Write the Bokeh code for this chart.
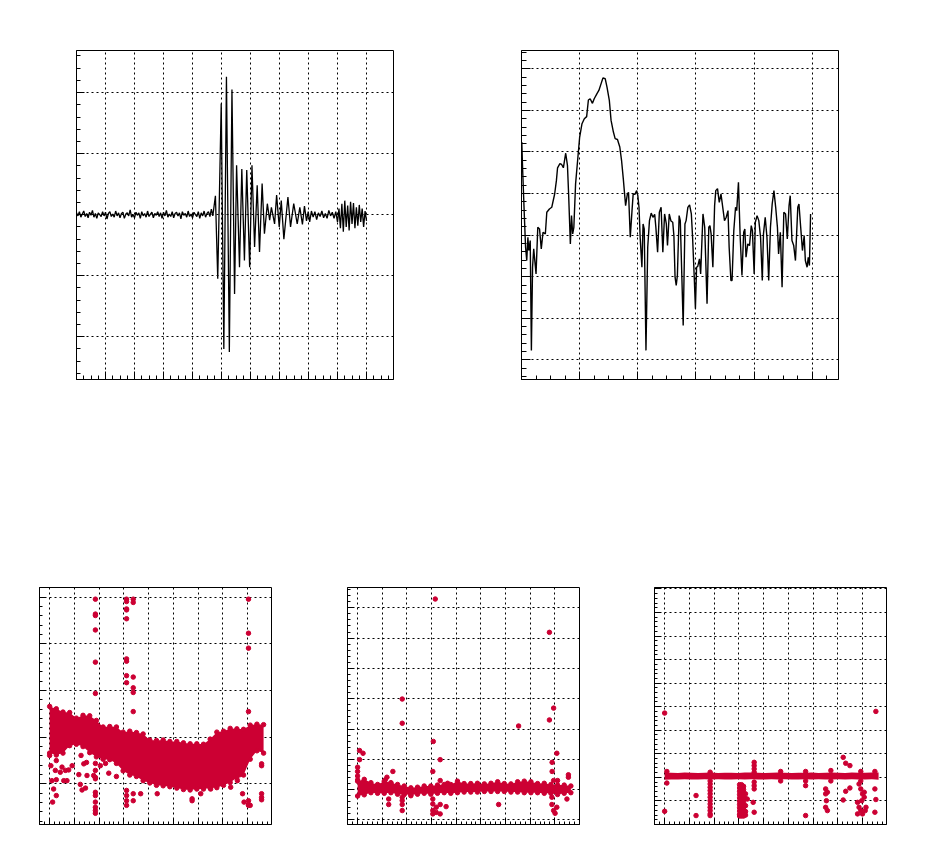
from bokeh.plotting import figure
from bokeh.layouts import column, row
from bokeh.models import FixedTicker, CustomJSTickFormatter, Range1d
from bokeh.embed import file_html
from bokeh.resources import INLINE

RED = "#cc0033"

# ---------------- Panel 1: waveform ----------------
wave_noise = [0.03, -0.02, 0.05, -0.04, 0.01, 0.06, -0.03, 0.02, -0.05, 0.04,
              -0.01, 0.07, -0.04, 0.02, -0.06, 0.03, 0.00, -0.03, 0.05, -0.02,
              0.04, -0.07, 0.02, 0.05, -0.03, 0.01, -0.04, 0.06, -0.02, 0.03,
              -0.05, 0.02, 0.04, -0.06, 0.01, 0.03, -0.02, 0.08, -0.04, 0.00,
              -0.05, 0.04, -0.01, 0.03, -0.06, 0.05, -0.02, 0.02, -0.04, 0.06,
              -0.03, 0.01, 0.04, -0.05, 0.02, -0.01, 0.05, -0.03, 0.03, -0.06,
              0.04, -0.02, 0.07, -0.04, 0.01, -0.03, 0.05, -0.05, 0.02, 0.04,
              -0.02, 0.03, -0.07, 0.05, -0.01, 0.02, -0.04, 0.06, -0.03, 0.01,
              -0.05, 0.04, 0.00, -0.03, 0.05, -0.06, 0.03, -0.02, 0.06, -0.04,
              0.02, 0.05, -0.03, 0.09]
burst_t = [4.70, 4.79, 4.87, 4.99, 5.08, 5.17, 5.27, 5.36, 5.45, 5.52,
           5.62, 5.70, 5.79, 5.87, 5.97, 6.05, 6.14, 6.23, 6.31, 6.40,
           6.48, 6.58, 6.66, 6.72, 6.83, 6.90, 6.99, 7.06, 7.15, 7.29,
           7.38, 7.49, 7.61, 7.70, 7.79, 7.86, 7.93, 7.99, 8.04, 8.10,
           8.16, 8.22, 8.28, 8.34, 8.40, 8.46, 8.52, 8.58, 8.64, 8.70,
           8.76, 8.82, 8.88, 8.94, 9.00, 9.05, 9.10, 9.15, 9.20, 9.25,
           9.30, 9.35, 9.40, 9.45, 9.50, 9.55, 9.60, 9.65, 9.70, 9.75,
           9.80, 9.85, 9.90, 9.95, 10.0]
burst_v = [-0.02, 0.31, -1.05, 1.82, -2.20, 2.26, -2.25, 2.05, -1.30, 0.81,
           -0.86, 0.75, -0.75, 0.73, -0.86, 0.81, -0.53, 0.48, -0.61, 0.51,
           -0.31, 0.18, -0.09, 0.12, -0.15, 0.32, -0.20, 0.23, -0.40, 0.29,
           -0.20, 0.18, -0.15, 0.12, -0.16, 0.14, -0.10, 0.05, -0.12, 0.06,
           -0.04, 0.05, -0.08, 0.03, -0.03, 0.06, -0.05, 0.02, -0.06, 0.07,
           -0.02, 0.04, -0.06, 0.05, -0.12, 0.10, -0.22, 0.18, -0.28, 0.23,
           -0.20, 0.15, -0.26, 0.21, -0.15, 0.19, -0.22, 0.12, -0.18, 0.16,
           -0.12, 0.10, -0.20, 0.06, -0.10]

# ---------------- Panel 2: spectrum ----------------
spectrum = [(0.005, 2.24), (0.02, 1.56), (0.05, 0.43), (0.07, -0.29), (0.09, -0.61),
            (0.11, -0.05), (0.125, -0.37), (0.15, -0.13), (0.17, -2.77), (0.19, -0.77),
            (0.21, -0.33), (0.25, -0.93), (0.28, 0.19), (0.31, 0.15), (0.34, -0.33),
            (0.37, 0.07), (0.41, 0.03), (0.435, 0.55), (0.48, 0.63), (0.52, 0.67),
            (0.57, 0.99), (0.60, 1.31), (0.62, 1.62), (0.66, 1.72), (0.69, 1.70),
            (0.72, 1.62), (0.74, 1.80), (0.76, 1.97), (0.79, 1.68), (0.81, 0.99),
            (0.84, -0.21), (0.86, 0.47), (0.88, 0.03), (0.90, 0.19), (0.93, 1.24),
            (0.97, 1.88), (1.00, 2.36), (1.04, 2.68), (1.08, 2.80), (1.12, 2.85),
            (1.15, 3.25), (1.18, 3.28), (1.22, 3.17), (1.25, 3.28), (1.30, 3.41),
            (1.33, 3.48), (1.37, 3.65), (1.40, 3.78), (1.44, 3.76), (1.47, 3.56),
            (1.51, 3.24), (1.54, 2.76), (1.58, 2.48), (1.61, 2.32), (1.65, 2.30),
            (1.69, 2.12), (1.72, 1.80), (1.75, 1.36), (1.77, 1.03), (1.79, 0.71),
            (1.82, 0.99), (1.84, 1.03), (1.87, -0.05), (1.90, 0.59), (1.92, 0.99),
            (1.95, 0.98), (1.98, 1.07), (2.00, 0.95), (2.02, 0.67), (2.04, -0.05),
            (2.07, -0.77), (2.09, 0.27), (2.11, 0.15), (2.14, -2.77), (2.17, -0.29),
            (2.20, 0.35), (2.23, 0.53), (2.26, 0.43), (2.29, 0.50), (2.31, 0.19),
            (2.34, -0.41), (2.37, 0.55), (2.40, 0.67), (2.43, -0.41), (2.46, 0.51),
            (2.49, 0.27), (2.51, -0.25), (2.54, 0.51), (2.57, 0.34), (2.60, 0.31),
            (2.62, -0.01), (2.64, -1.01), (2.66, -1.21), (2.68, -0.97), (2.71, 0.47),
            (2.73, 0.35), (2.78, -2.17), (2.81, 0.27), (2.83, 0.35), (2.86, 0.67),
            (2.89, 0.73), (2.92, 0.51), (2.94, -0.01), (2.97, -1.01), (2.99, -1.77),
            (3.01, -0.77), (3.03, -0.75), (3.06, -0.57), (3.08, -0.93), (3.12, 0.51),
            (3.15, 0.19), (3.19, -1.65), (3.22, 0.19), (3.24, 0.23), (3.26, 0.03),
            (3.29, -0.77), (3.32, 0.71), (3.34, 1.07), (3.37, 1.12), (3.40, 0.79),
            (3.43, 0.99), (3.46, 0.67), (3.49, 0.35), (3.52, 0.43), (3.55, 0.59),
            (3.57, -0.29), (3.60, -1.09), (3.62, -1.09), (3.65, 0.11), (3.68, 0.67),
            (3.70, 0.59), (3.73, 1.27), (3.76, -0.05), (3.79, -0.97), (3.82, 0.07),
            (3.84, 0.15), (3.86, -0.53), (3.89, -0.21), (3.92, -0.25), (3.95, 0.23),
            (3.97, 0.11), (4.00, -0.93), (4.02, 0.31), (4.05, 0.47), (4.08, 0.35),
            (4.11, -0.05), (4.14, -1.09), (4.16, 0.03), (4.19, 0.43), (4.22, -0.05),
            (4.25, -1.09), (4.28, 0.19), (4.31, 0.75), (4.34, 1.07), (4.37, 0.67),
            (4.40, 0.19), (4.42, -0.45), (4.45, 0.07), (4.48, -1.25), (4.51, 0.55),
            (4.54, 0.51), (4.57, -0.09), (4.60, 0.71), (4.62, 0.95), (4.65, -0.13),
            (4.68, -0.25), (4.71, -0.61), (4.75, 0.67), (4.77, 0.75), (4.80, 0.19),
            (4.83, -0.37), (4.86, -0.01), (4.88, -0.61), (4.91, -0.77), (4.93, -0.53),
            (4.95, -0.73), (4.97, 0.51)]

# ---------------- Bottom panels: scatter bands ----------------
band_x = [0.0, 0.27, 0.54, 0.81, 1.08, 1.35, 1.62, 1.89, 2.16, 2.43, 2.70, 2.97,
          3.24, 3.51, 3.78, 4.05, 4.32, 4.59, 4.86, 5.14, 5.41, 5.68, 5.95, 6.22,
          6.49, 6.76, 7.03, 7.30, 7.57, 7.84, 8.11, 8.38, 8.65]

p3_upper = [1.66, 1.61, 1.54, 1.53, 1.41, 1.47, 1.46, 1.36, 1.22, 1.23, 1.22, 1.11,
            1.13, 1.10, 1.07, 0.94, 0.93, 0.94, 0.91, 0.91, 0.88, 0.86, 0.86, 0.85,
            0.96, 1.11, 1.13, 1.19, 1.18, 1.17, 1.26, 1.28, 1.27]
p3_lower = [0.66, 0.62, 0.66, 0.82, 0.85, 0.80, 0.67, 0.58, 0.53, 0.52, 0.44, 0.28,
            0.19, 0.16, 0.07, 0.02, -0.03, -0.04, -0.06, -0.09, -0.12, -0.13, -0.11, -0.11,
            -0.09, -0.08, -0.03, 0.03, 0.13, 0.19, 0.53, 0.71, 0.66]
p3_outliers = [(1.85, 3.96), (1.85, 3.64), (1.85, 3.61), (1.85, 3.30), (1.85, 2.61),
               (1.85, 1.94), (1.85, 0.44), (1.85, 0.29), (1.85, 0.14), (1.85, 0.11),
               (1.85, -0.18), (1.85, -0.25), (1.85, -0.39), (1.85, -0.50), (1.85, -0.57),
               (1.85, -0.63),
               (3.11, 3.96), (3.11, 3.91), (3.11, 3.75), (3.11, 3.73), (3.11, 3.54),
               (3.11, 2.68), (3.11, 2.63), (3.11, 2.32), (3.11, 2.17), (3.11, -0.14),
               (3.11, -0.25), (3.11, -0.36), (3.11, -0.46),
               (3.38, 3.96), (3.38, 3.89), (3.38, 2.29), (3.38, 2.06), (3.38, 1.96),
               (3.38, 1.55), (3.38, -0.21), (3.38, -0.36),
               (8.04, 3.96), (8.04, 3.23), (8.04, 2.91), (8.04, 1.55), (8.04, -0.36),
               (8.04, -0.44), (8.04, -0.46),
               (8.57, 0.43), (8.57, 0.39), (8.57, -0.21), (8.57, -0.29), (8.57, -0.34),
               (0.0, 0.61), (0.05, 0.39), (0.09, 0.07), (0.12, -0.39), (0.16, -0.11),
               (0.27, 0.50), (0.23, 0.29), (0.27, 0.09), (0.27, -0.25), (0.43, 0.25),
               (0.50, 0.36), (0.57, 0.07), (0.64, 0.29), (0.70, 0.07), (0.77, 0.30),
               (0.91, 0.39), (1.18, 0.20), (1.24, -0.01), (1.27, 0.61), (1.31, -0.13),
               (1.38, 0.43), (1.45, -0.09), (1.49, 0.46), (1.51, 0.18), (1.78, 0.18),
               (2.39, 0.23), (2.26, 0.44), (2.05, 0.39), (2.70, 0.16),
               (3.68, -0.21), (4.35, -0.21), (5.76, -0.32), (5.76, -0.36), (6.11, -0.21),
               (6.51, -0.11), (7.32, -0.07), (7.59, 0.07), (7.80, -0.21), (7.86, -0.39),
               (8.11, -0.46), (7.70, 0.20)]

p4_upper = [1.28, 1.34, 1.23, 1.17, 1.28, 1.23, 1.17, 1.12, 1.06, 1.08, 1.12, 1.12,
            1.15, 1.17, 1.17, 1.28, 1.20, 1.20, 1.21, 1.19, 1.21, 1.26, 1.20, 1.19,
            1.26, 1.28, 1.26, 1.20, 1.21, 1.17, 1.15, 1.15, 1.12]
p4_lower = [0.79, 0.83, 0.90, 0.88, 0.88, 0.90, 0.85, 0.84, 0.83, 0.85, 0.88, 0.85,
            0.88, 0.90, 0.88, 0.90, 0.92, 0.92, 0.92, 0.94, 0.94, 0.94, 0.94, 0.92,
            0.92, 0.90, 0.90, 0.90, 0.88, 0.88, 0.84, 0.88, 0.90]
p4_outliers = [(3.15, 7.29), (7.78, 6.19), (1.81, 3.99), (1.81, 3.19), (3.07, 2.59),
               (3.35, 1.99), (3.05, 1.60), (3.35, 1.30), (6.53, 3.10), (7.78, 3.30),
               (7.95, 3.69), (8.08, 2.20), (7.89, 1.90), (7.89, 1.60), (7.95, 1.30),
               (8.11, 1.30), (0.08, 2.29), (0.22, 2.20), (0.08, 1.99), (0.0, 1.74),
               (0.0, 1.60), (0.0, 1.45), (0.0, 1.32), (1.43, 1.60), (1.19, 1.41),
               (1.12, 1.32), (1.35, 1.21), (3.65, 1.21), (8.55, 1.49), (8.55, 1.41),
               (8.49, 0.69), (1.26, 0.69), (1.26, 0.51), (1.81, 0.75), (1.81, 0.64),
               (1.81, 0.51), (1.81, 0.31), (2.16, 0.80), (3.05, 0.69), (3.05, 0.53),
               (3.05, 0.31), (3.05, 0.20), (3.19, 0.42), (3.19, 0.25), (3.35, 0.51),
               (3.35, 0.20), (3.59, 0.44), (5.72, 0.51), (7.88, 0.75), (7.88, 0.51),
               (7.95, 0.31), (8.01, 0.22), (8.08, 0.42)]

p5_upper = [1.21, 1.20, 1.19, 1.21, 1.20, 1.19, 1.20, 1.21, 1.19, 1.20, 1.20, 1.19,
            1.21, 1.21, 1.20, 1.19, 1.20, 1.21, 1.20, 1.19, 1.20, 1.20, 1.21, 1.19,
            1.20, 1.21, 1.20, 1.19, 1.21, 1.20, 1.20, 1.21, 1.21]
p5_lower = [0.90, 0.91, 0.91, 0.92, 0.91, 0.91, 0.92, 0.91, 0.92, 0.91, 0.91, 0.92,
            0.91, 0.92, 0.91, 0.91, 0.92, 0.91, 0.92, 0.91, 0.91, 0.92, 0.91, 0.92,
            0.91, 0.91, 0.92, 0.91, 0.92, 0.91, 0.91, 0.92, 0.90]
p5_outliers = [(0.0, 3.73), (8.54, 3.80), (0.0, -0.44), (0.09, 0.76), (0.09, 1.25),
               (1.27, 0.23), (1.27, -0.62),
               (1.84, 0.85), (1.84, 0.72), (1.84, 0.58), (1.84, 0.44), (1.84, 0.30),
               (1.84, 0.16), (1.84, 0.01), (1.84, -0.13), (1.84, -0.27), (1.84, -0.41),
               (1.84, -0.55), (1.84, -0.62), (1.84, 1.22),
               (3.03, 0.69), (3.03, 0.55), (3.03, 0.41), (3.03, 0.27), (3.03, 0.13),
               (3.03, -0.01), (3.03, -0.15), (3.03, -0.29), (3.03, -0.43), (3.03, -0.57),
               (3.03, -0.64),
               (3.11, 0.69), (3.11, 0.55), (3.11, 0.41), (3.11, 0.27), (3.11, 0.13),
               (3.11, -0.01), (3.11, -0.15), (3.11, -0.29), (3.11, -0.43), (3.11, -0.57),
               (3.11, -0.64),
               (3.19, 0.62), (3.19, 0.48), (3.19, 0.34), (3.19, 0.20), (3.19, 0.06),
               (3.19, -0.08), (3.19, -0.22), (3.19, -0.36), (3.19, -0.50), (3.19, -0.64),
               (3.27, 0.30), (3.27, 0.10), (3.27, -0.20), (3.27, -0.45), (3.27, -0.60),
               (3.34, 0.08),
               (3.62, 1.64), (3.62, 1.50), (3.62, 1.36), (3.62, 1.22), (3.62, 0.80),
               (3.62, 0.65), (3.62, 0.51), (3.58, -0.06), (3.62, -0.48),
               (4.69, 1.25), (4.69, 0.85), (5.70, 1.25), (5.70, 0.85),
               (5.70, 0.65), (5.70, -0.62),
               (6.51, 0.51), (6.51, 0.30), (6.54, 0.01), (6.58, -0.41), (6.51, -0.27),
               (6.58, 0.37), (6.72, 1.29), (6.72, 0.85),
               (7.22, 1.85), (7.32, 1.60), (7.49, 1.50), (7.22, 0.04), (7.32, 0.41),
               (7.49, 0.55),
               (7.86, 0.72), (7.93, 0.51), (8.00, 0.30), (8.07, 0.37), (7.80, -0.06),
               (7.86, -0.27), (7.93, -0.41), (8.00, -0.55), (8.11, -0.41), (7.80, -0.55),
               (8.14, -0.27), (7.97, 0.01), (8.07, 0.16), (7.93, 1.25), (7.93, 0.85),
               (8.50, 0.51), (8.54, 0.06), (8.50, -0.48), (8.50, 1.25)]


def seq(lo, hi, step):
    n = int(round((hi - lo) / step))
    return [round(lo + i * step, 4) for i in range(n + 1)]


def make_fig(width, height, left, right, top, bottom, xr, yr,
             xmaj, xmin, ymaj, ymin, xt, yt):
    p = figure(width=width, height=height,
               x_range=Range1d(*xr), y_range=Range1d(*yr),
               output_backend="svg", toolbar_location=None,
               min_border_left=left, min_border_right=right,
               min_border_top=top, min_border_bottom=bottom)
    xtick = FixedTicker(ticks=xmaj, minor_ticks=xmin)
    ytick = FixedTicker(ticks=ymaj, minor_ticks=ymin)
    p.xaxis.ticker = xtick
    p.yaxis.ticker = ytick
    p.xgrid.ticker = xtick
    p.ygrid.ticker = ytick
    for ax, tl in ((p.xaxis[0], xt), (p.yaxis[0], yt)):
        ax.formatter = CustomJSTickFormatter(code="return ''")
        ax.major_tick_in = tl[0]
        ax.major_tick_out = 0
        ax.minor_tick_in = tl[1]
        ax.minor_tick_out = 0
        ax.axis_line_color = "black"
        ax.major_tick_line_color = "black"
        ax.minor_tick_line_color = "black"
        ax.major_label_standoff = 0
    for g in (p.xgrid[0], p.ygrid[0]):
        g.grid_line_color = "black"
        g.grid_line_dash = "2 3"
        g.grid_line_width = 1
        g.grid_line_alpha = 1.0
    p.outline_line_color = "black"
    p.outline_line_width = 1
    p.outline_line_alpha = 1.0
    p.background_fill_color = "white"
    p.border_fill_color = "white"
    return p


# Panel 1
p1 = make_fig(458, 428, 76, 65, 50, 49, (0, 10.93), (-2.70, 2.69),
              seq(0, 10, 1), seq(0, 10.75, 0.25), seq(-2, 2, 1), seq(-2.6, 2.6, 0.2),
              (8, 4), (8, 4))
wave_t = [round(i * 0.05, 2) for i in range(len(wave_noise))] + burst_t
wave_v = wave_noise + burst_v
p1.line(wave_t, wave_v, line_color="black", line_width=1.3)

# Panel 2
p2 = make_fig(461, 428, 63, 81, 50, 49, (0, 5.45), (-3.47, 4.44),
              seq(0, 5, 1), seq(0, 5.25, 0.25), seq(-3, 4, 1), seq(-3.4, 4.4, 0.2),
              (8, 4), (9, 5))
spec_f = [a for a, b in spectrum]
spec_v = [b for a, b in spectrum]
p2.line(spec_f, spec_v, line_color="black", line_width=1.4)


def band_panel(p, upper, lower, outliers, edge_dots):
    p.varea(x=band_x, y1=lower, y2=upper, fill_color=RED, fill_alpha=1.0)
    if edge_dots:
        p.scatter(band_x, upper, size=4.5, color=RED)
        p.scatter(band_x, lower, size=4.5, color=RED)
    p.scatter([a for a, b in outliers], [b for a, b in outliers], size=4.5, color=RED)


# Panel 3
p3 = make_fig(310, 418, 39, 39, 159, 22, (-0.41, 8.97), (-0.87, 4.21),
              seq(0, 8, 1), seq(-0.4, 8.8, 0.2), seq(0, 4, 1), seq(-0.8, 4.2, 0.2),
              (6, 3), (6, 3))
band_panel(p3, p3_upper, p3_lower, p3_outliers, True)

# Panel 4
p4 = make_fig(305, 418, 37, 36, 159, 22, (-0.41, 9.0), (-0.15, 7.67),
              seq(0, 8, 1), seq(-0.4, 9.0, 0.2), seq(0, 7, 1), seq(-0.0, 7.6, 0.2),
              (6, 3), (6, 3))
band_panel(p4, p4_upper, p4_lower, p4_outliers, True)

# Panel 5
p5 = make_fig(304, 418, 39, 33, 159, 22, (-0.41, 8.97), (-1.0, 9.06),
              seq(0, 8, 1), seq(-0.4, 8.8, 0.2), seq(-1, 9, 1), seq(-1.0, 9.0, 0.2),
              (6, 3), (6, 3))
band_panel(p5, p5_upper, p5_lower, p5_outliers, False)

layout = column(row(p1, p2), row(p3, p4, p5))
open("out.html", "w").write(file_html(layout, INLINE))
